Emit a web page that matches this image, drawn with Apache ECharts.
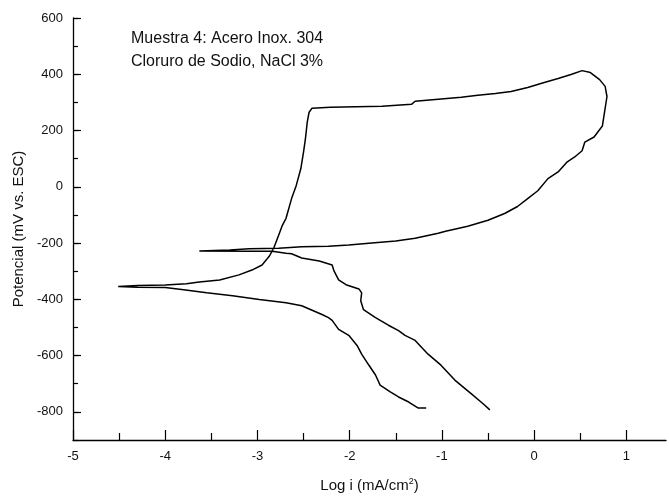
<!DOCTYPE html>
<html lang="es">
<head>
<meta charset="UTF-8">
<title>Polarización cíclica - Muestra 4</title>
<style>
  * { margin: 0; padding: 0; box-sizing: border-box; }
  body { background: #fff; }
  #chart { width: 669px; height: 498px; }
</style>
</head>
<body>
<div id="chart"></div>
<script src="https://cdn.jsdelivr.net/npm/echarts@6/dist/echarts.min.js"></script>
<script>
// barrido directo, rama catódica (desde -800 mV hasta Ecorr)
const cathFwdLogI = [-1.17, -1.26, -1.28, -1.36, -1.47, -1.56, -1.67, -1.72, -1.80, -1.87, -1.92, -2.01, -2.12, -2.19, -2.23, -2.30, -2.52, -2.69, -2.98, -3.27, -3.55, -3.80, -4.00, -4.30, -4.51];
const cathFwdE    = [-786, -786, -779, -765, -747, -729, -705, -669, -630, -595, -564, -528, -507, -475, -465, -454, -423, -412, -401, -387, -377, -366, -358, -357, -354];

// barrido directo, rama anódica (pasivación y picado)
const anodFwdLogI = [-4.51, -4.30, -4.00, -3.77, -3.63, -3.41, -3.20, -3.06, -2.95, -2.87, -2.82, -2.77, -2.73, -2.69, -2.63, -2.58, -2.53, -2.50, -2.48, -2.46, -2.44, -2.41, -2.21, -1.65, -1.33, -1.29, -1.04, -0.79, -0.61, -0.42, -0.25, -0.07, 0.11, 0.26, 0.40, 0.52, 0.61, 0.71, 0.77, 0.79];
const anodFwdE    = [-352, -351, -349, -345, -338, -331, -313, -296, -278, -246, -215, -172, -137, -112, -42, 4, 64, 124, 170, 230, 265, 279, 283, 286, 293, 304, 311, 318, 325, 332, 339, 353, 371, 385, 399, 413, 406, 381, 357, 321];

// barrido inverso
const revLogI = [0.79, 0.74, 0.65, 0.55, 0.52, 0.44, 0.36, 0.26, 0.15, 0.04, -0.07, -0.18, -0.32, -0.50, -0.72, -0.96, -1.04, -1.29, -1.50, -1.76, -2.01, -2.23, -2.52, -2.77, -3.09, -3.30, -3.63];
const revE    = [265, 216, 177, 159, 128, 106, 89, 53, 29, -14, -42, -70, -95, -119, -140, -158, -165, -183, -193, -200, -207, -211, -213, -218, -220, -225, -228];

// barrido inverso, rama catódica
const cathRevLogI = [-3.63, -3.09, -2.84, -2.69, -2.63, -2.52, -2.33, -2.19, -2.17, -2.12, -2.04, -1.90, -1.87, -1.88, -1.85, -1.72, -1.58, -1.47, -1.40, -1.29, -1.15, -1.01, -0.86, -0.68, -0.55, -0.48];
const cathRevE    = [-230, -229, -229, -236, -238, -253, -264, -278, -299, -331, -348, -363, -377, -405, -437, -465, -492, -511, -528, -546, -595, -634, -687, -736, -772, -793];

const xMajorTicks = [-5, -4, -3, -2, -1, 0, 1];
const xMinorTicks = [-4.5, -3.5, -2.5, -1.5, -0.5, 0.5];
const yMajorTicks = [-800, -600, -400, -200, 0, 200, 400, 600];

const chart = echarts.init(document.getElementById('chart'));

const pairs = (xs, ys) => xs.map((x, i) => [x, ys[i]]);
const curve = [].concat(
  pairs(cathFwdLogI, cathFwdE),
  pairs(anodFwdLogI, anodFwdE).slice(1),
  pairs(revLogI, revE).slice(1),
  pairs(cathRevLogI, cathRevE).slice(1)
);

const FONT = 'Liberation Sans, Arial, sans-serif';
const tickLine = { color: '#000', width: 1.2 };
const X_MIN = -5, X_MAX = 1.43;   // el eje x se corta en el borde derecho

chart.setOption({
  animation: false,
  backgroundColor: '#fff',
  textStyle: { fontFamily: FONT, color: '#111' },
  grid: { left: 73, right: 0, top: 18, bottom: 55 },
  xAxis: [{
    type: 'value', min: X_MIN, max: X_MAX, interval: 1, position: 'bottom',
    axisLine: { show: true, onZero: false, lineStyle: { color: '#000', width: 1.3 } },
    axisTick: { inside: true, length: 10, customValues: xMajorTicks, lineStyle: tickLine },
    splitLine: { show: false },
    axisLabel: {
      margin: 10, fontSize: 13, color: '#111', fontFamily: FONT,
      formatter: v => Number.isInteger(v) ? String(v) : ''
    },
    name: 'Log i (mA/cm{sup|2})',
    nameLocation: 'middle',
    nameGap: 37,
    nameTextStyle: {
      fontSize: 15, color: '#111', fontFamily: FONT,
      rich: { sup: { fontSize: 9, verticalAlign: 'top', padding: [0, 0, 8, 0], color: '#111', fontFamily: FONT } }
    }
  }, {
    // marcas menores cada 0.5
    type: 'value', min: X_MIN, max: X_MAX, interval: 1, position: 'bottom', offset: 0,
    axisLine: { show: false, onZero: false },
    axisTick: { inside: true, length: 7, customValues: xMinorTicks, lineStyle: tickLine },
    axisLabel: { show: false },
    splitLine: { show: false }
  }],
  yAxis: [{
    type: 'value', min: -900, max: 600, interval: 100, position: 'left',
    axisLine: { show: true, onZero: false, lineStyle: { color: '#000', width: 1.3 } },
    axisTick: { inside: true, length: 5, lineStyle: tickLine },
    splitLine: { show: false },
    axisLabel: {
      margin: 10, fontSize: 13, color: '#111', fontFamily: FONT,
      formatter: v => v % 200 === 0 ? String(v) : ''
    },
    name: 'Potencial (mV vs. ESC)',
    nameLocation: 'middle',
    nameGap: 47,
    nameTextStyle: { fontSize: 15, color: '#111', fontFamily: FONT }
  }, {
    // solo las marcas mayores (cada 200 mV), más largas
    type: 'value', min: -900, max: 600, interval: 100, position: 'left', offset: 0,
    axisLine: { show: false, onZero: false },
    axisTick: { inside: true, length: 8, customValues: yMajorTicks, lineStyle: tickLine },
    axisLabel: { show: false },
    splitLine: { show: false }
  }],
  graphic: [{
    type: 'text', left: 131, top: 27,
    style: {
      text: 'Muestra 4: Acero Inox. 304\nCloruro de Sodio, NaCl 3%',
      font: '16px ' + FONT, fill: '#111', lineHeight: 23
    }
  }],
  series: [{
    type: 'line',
    data: curve,
    showSymbol: false,
    clip: true,
    lineStyle: { color: '#000', width: 1.5 }
  }]
});
</script>
</body>
</html>
